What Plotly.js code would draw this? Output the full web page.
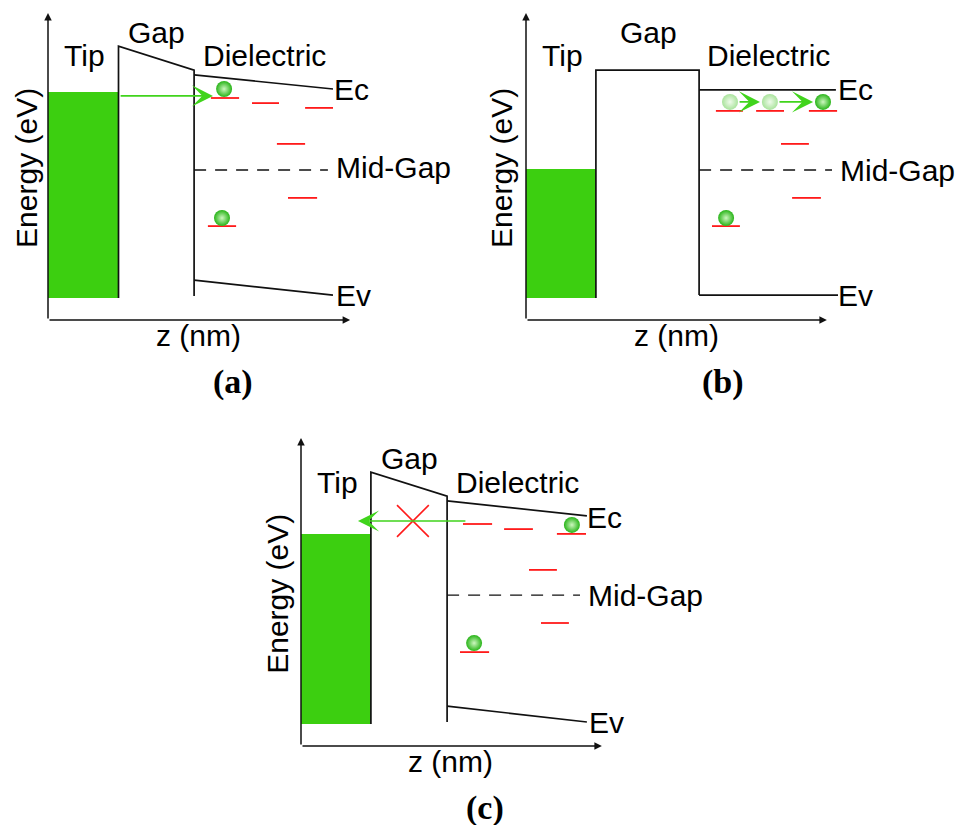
<!DOCTYPE html>
<html>
<head>
<meta charset="utf-8">
<script src="https://cdn.plot.ly/plotly-3.0.1.min.js"></script>
<style>html,body{margin:0;padding:0;background:#fff}</style>
</head>
<body>
<div id="chart" style="width:959px;height:825px"></div>
<script>
// Tip / vacuum gap / dielectric band diagrams (z in nm, energy in eV, schematic units)
const panelNames = ['(a)', '(b)', '(c)'];
const regionNames = ['Tip', 'Gap', 'Dielectric'];
const bandNames = ['Ec', 'Mid-Gap', 'Ev'];

// Filled tip states: z extent and [band bottom, Fermi level]
const tipZ = [[0, 2.35], [0, 2.33], [0, 2.33]];
const tipE = [[0.73, 7.6], [0.73, 5.03], [0.73, 7.07]];

// Gap barrier outline: left bottom, left top, right top, right bottom
const gapZ = [[2.35, 2.35, 4.87, 4.87], [2.33, 2.33, 5.77, 5.77], [2.33, 2.33, 4.87, 4.87]];
const gapE = [[0.73, 9.13, 8.33, 0.8], [0.73, 8.33, 8.33, 0.83], [0.73, 9.13, 8.33, 0.8]];

// Dielectric band edges
const ecZ = [[4.87, 9.5], [5.77, 10.33], [4.87, 9.53]];
const ecE = [[8.17, 7.7], [7.67, 7.67], [8.17, 7.67]];
const evZ = [[4.87, 9.5], [5.77, 10.4], [4.87, 9.53]];
const evE = [[1.33, 0.83], [0.83, 0.83], [1.33, 0.8]];
const midZ = [[4.87, 9.33], [5.77, 10.2], [4.87, 9.3]];
const midE = [5.0, 5.0, 5.03];

// Trap levels: start z, end z, energy
const trapZ0 = [[5.43, 6.8, 8.57, 7.63, 8.0, 5.33], [6.33, 7.67, 9.43, 8.5, 8.87, 6.2], [5.4, 6.77, 8.53, 7.6, 8.0, 5.3]];
const trapZ1 = [[6.37, 7.7, 9.5, 8.57, 8.97, 6.27], [7.23, 8.6, 10.37, 9.43, 9.83, 7.13], [6.37, 7.73, 9.5, 8.53, 8.93, 6.27]];
const trapE = [[7.4, 7.23, 7.07, 5.87, 4.07, 3.13], [6.97, 6.97, 6.97, 5.87, 4.07, 3.13], [7.4, 7.23, 7.07, 5.87, 4.1, 3.13]];

// Trapped electrons
const electronZ = [[5.87, 5.8], [9.9, 6.67], [9.03, 5.77]];
const electronE = [[7.7, 3.4], [7.27, 3.4], [7.37, 3.43]];
// Earlier positions of the hopping electron in (b)
const hopZ = [6.8, 8.13];
const hopE = [7.27, 7.27];

// Electron transfer arrows: tail z, head z, energy
const transferTail = [[2.37], [7.07, 8.4], [5.53]];
const transferHead = [[5.5], [7.8, 9.57], [1.9]];
const transferE = [[7.47], [7.27, 7.27], [7.5]];

// Blocked tunnelling cross in (c): centre and half size
const blockZ = 3.73, blockE = 7.5, blockHalf = 0.53;

// Axis lengths
const zMax = [10.07, 10.03, 10.03];
const eMax = [10.23, 10.23, 10.27];

// ---- layout of the three panels ----
const xDomains = [[3 / 959, 480 / 959], [481 / 959, 946 / 959], [256 / 959, 736 / 959]];
const xRanges = [[-1.5, 14.4], [-1.5, 14.0], [-1.5, 14.5]];
const yDomains = [[427 / 825, 823 / 825], [427 / 825, 823 / 825], [1 / 825, 397 / 825]];
const yRange = [-2.6, 10.6];

// label anchors per panel (data units)
const regionLabelZ = [[1.23, 3.63, 7.23], [1.2, 4.07, 8.07], [1.2, 3.63, 7.2]];
const regionLabelE = [[8.83, 9.57, 8.83], [8.83, 9.57, 8.83], [8.8, 9.6, 8.8]];
const bandLabelZ = [[9.47, 9.53, 9.53], [10.33, 10.4, 10.33], [9.47, 9.5, 9.53]];
const bandLabelE = [[7.67, 5.07, 0.83], [7.67, 5.0, 0.83], [7.63, 5.03, 0.8]];
const yTitleZ = [-0.7, -0.8, -0.77];
const xTitleZ = [5.0, 5.03, 4.97];
const nameZ = [6.17, 6.57, 6.13];

const BLACK = '#111111';
const RED = '#ff1a1a';
const GREEN = '#3ccf10';
const ARROW_GREEN = '#40d41c';
const SANS = 'Liberation Sans, Arial, sans-serif';
const FS = 30;

const traces = [];
const annotations = [];
const layout = {
  width: 959, height: 825,
  margin: {l: 0, r: 0, t: 0, b: 0},
  paper_bgcolor: '#fff', plot_bgcolor: 'rgba(0,0,0,0)',
  showlegend: false,
  annotations: annotations
};

function segments(z0, z1, e0, e1) {
  const xs = [], ys = [];
  for (let k = 0; k < z0.length; k++) {
    xs.push(z0[k], z1[k], null);
    ys.push(e0[k], e1[k], null);
  }
  return {xs, ys};
}

for (let i = 0; i < 3; i++) {
  const sfx = i === 0 ? '' : String(i + 1);
  const xa = 'x' + sfx, ya = 'y' + sfx;
  layout['xaxis' + sfx] = {domain: xDomains[i], range: xRanges[i], visible: false, anchor: ya, fixedrange: true};
  layout['yaxis' + sfx] = {domain: yDomains[i], range: yRange, visible: false, anchor: xa, fixedrange: true};

  const line = (x, y, color, extra) => traces.push(Object.assign({
    type: 'scatter', mode: 'lines', x, y, xaxis: xa, yaxis: ya,
    line: {color, width: 1.7}, hoverinfo: 'skip'
  }, extra || {}));

  // filled tip states
  traces.push({
    type: 'scatter', mode: 'lines', xaxis: xa, yaxis: ya, hoverinfo: 'skip',
    x: [tipZ[i][0], tipZ[i][1], tipZ[i][1], tipZ[i][0], tipZ[i][0]],
    y: [tipE[i][0], tipE[i][0], tipE[i][1], tipE[i][1], tipE[i][0]],
    fill: 'toself', fillcolor: GREEN, line: {width: 0, color: GREEN}
  });

  // barrier, band edges, mid-gap level
  line(gapZ[i], gapE[i], BLACK);
  line(ecZ[i], ecE[i], BLACK);
  line(evZ[i], evE[i], BLACK);
  line(midZ[i], [midE[i], midE[i]], BLACK, {line: {color: BLACK, width: 1.4, dash: '12px,9px'}});

  // trap levels
  const t = segments(trapZ0[i], trapZ1[i], trapE[i], trapE[i]);
  line(t.xs, t.ys, RED, {line: {color: RED, width: 1.8}});

  // blocked path in (c)
  if (i === 2) {
    line([blockZ - blockHalf, blockZ + blockHalf, null, blockZ - blockHalf, blockZ + blockHalf],
         [blockE + blockHalf, blockE - blockHalf, null, blockE - blockHalf, blockE + blockHalf],
         RED, {line: {color: RED, width: 1.6}});
  }

  // electrons
  if (i === 1) {
    traces.push({
      type: 'scatter', mode: 'markers', x: hopZ, y: hopE, xaxis: xa, yaxis: ya, hoverinfo: 'skip',
      marker: {size: 16, color: '#a9e39c', gradient: {type: 'radial', color: '#effbea'}, line: {width: 0}}
    });
  }
  traces.push({
    type: 'scatter', mode: 'markers', x: electronZ[i], y: electronE[i], xaxis: xa, yaxis: ya, hoverinfo: 'skip',
    marker: {size: 16, color: '#28b418', gradient: {type: 'radial', color: '#cdf7bf'}, line: {width: 0}}
  });

  // transfer arrows
  for (let k = 0; k < transferTail[i].length; k++) {
    annotations.push({
      xref: xa, yref: ya, axref: xa, ayref: ya,
      x: transferHead[i][k], y: transferE[i][k], ax: transferTail[i][k], ay: transferE[i][k],
      text: '', showarrow: true, arrowhead: 3, arrowsize: 2.2, arrowwidth: 1.6, arrowcolor: ARROW_GREEN
    });
  }

  // axes with arrowheads
  annotations.push({
    xref: xa, yref: ya, axref: xa, ayref: ya, x: zMax[i], y: 0, ax: 0, ay: 0,
    text: '', showarrow: true, arrowhead: 2, arrowsize: 1, arrowwidth: 1.5, arrowcolor: BLACK
  });
  annotations.push({
    xref: xa, yref: ya, axref: xa, ayref: ya, x: 0, y: eMax[i], ax: 0, ay: 0,
    text: '', showarrow: true, arrowhead: 2, arrowsize: 1, arrowwidth: 1.5, arrowcolor: BLACK
  });

  // region and band labels
  for (let k = 0; k < 3; k++) {
    annotations.push({
      xref: xa, yref: ya, x: regionLabelZ[i][k], y: regionLabelE[i][k], text: regionNames[k],
      showarrow: false, xanchor: 'center', yanchor: 'middle', font: {family: SANS, size: FS, color: '#000'}
    });
    annotations.push({
      xref: xa, yref: ya, x: bandLabelZ[i][k], y: bandLabelE[i][k], text: bandNames[k],
      showarrow: false, xanchor: 'left', yanchor: 'middle', font: {family: SANS, size: FS, color: '#000'}
    });
  }

  // axis titles and panel name
  annotations.push({
    xref: xa, yref: ya, x: yTitleZ[i], y: 5.07, text: 'Energy (eV)', textangle: -90,
    showarrow: false, xanchor: 'center', yanchor: 'middle', font: {family: SANS, size: FS, color: '#000'}
  });
  annotations.push({
    xref: xa, yref: ya, x: xTitleZ[i], y: -0.5, text: 'z (nm)',
    showarrow: false, xanchor: 'center', yanchor: 'middle', font: {family: SANS, size: FS, color: '#000'}
  });
  annotations.push({
    xref: xa, yref: ya, x: nameZ[i], y: -2.07, text: '<b>' + panelNames[i] + '</b>',
    showarrow: false, xanchor: 'center', yanchor: 'middle', font: {family: 'Liberation Serif, Times New Roman, serif', size: 34, color: '#000'}
  });
}

Plotly.newPlot('chart', traces, layout, {staticPlot: true, displayModeBar: false});
</script>
</body>
</html>
